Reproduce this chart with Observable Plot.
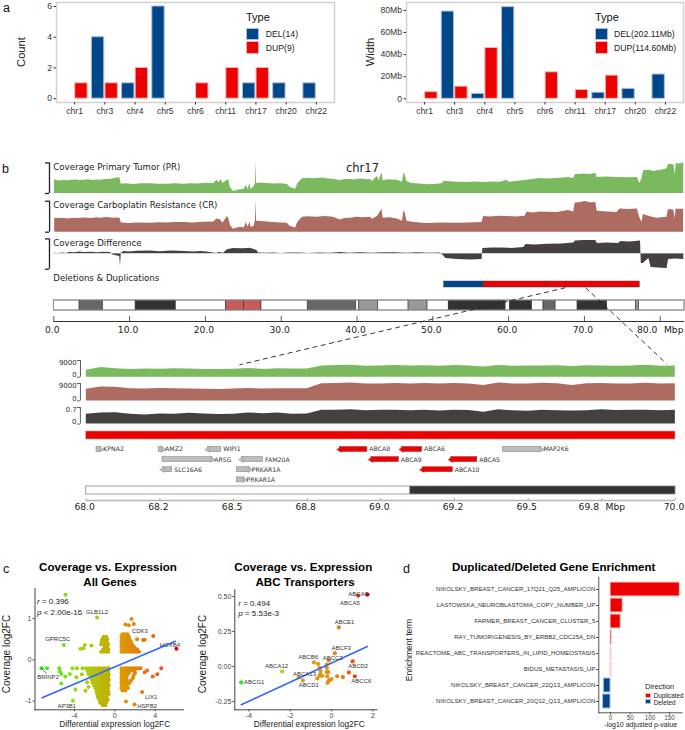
<!DOCTYPE html>
<html><head><meta charset="utf-8">
<script src="https://cdn.jsdelivr.net/npm/d3@7"></script>
<script src="https://cdn.jsdelivr.net/npm/@observablehq/plot@0.6"></script>
<style>
html,body{margin:0;padding:0;background:#fff;overflow:hidden}
#page{position:relative;width:685px;height:730px;overflow:hidden;background:#fff}
#page svg{position:absolute;max-width:none}
.t{position:absolute;white-space:nowrap;line-height:1}
</style></head><body><div id="page"></div>
<script>
// ---------- panel a ----------
const chrs=["chr1","chr3","chr4","chr5","chr6","chr11","chr17","chr20","chr22"];
const delCount=[0,4,1,6,0,0,1,1,1];
const dupCount=[1,1,2,0,1,2,2,0,0];
const delWidth=[0,79,4.5,83,0,0,5.5,9,22];
const dupWidth=[6,11,46,0,24,8,21,0,0];
// ---------- panel b, whole chromosome: [Mb, coverage] ----------
const prTrack=[[0.1,14],[0.5,12.8],[1,12.6],[1.3,13.2],[1.8,12.7],[2.3,13.2],[3,13.6],[3.4,12.9],[4,13.3],[4.6,13.8],[5,12.9],[5.6,13.4],[6.2,13.3],[6.8,13.9],[7.3,14.1],[7.7,14.6],[8.1,15],[8.7,16],[8.9,9.3],[9.5,9.7],[10.5,9.1],[11.5,9.8],[12.8,9.7],[13.8,9.3],[15,9.2],[16,9.7],[17.2,9.3],[18,9.8],[19,9.6],[20,10.2],[21.1,10],[21.5,13.3],[21.8,10.7],[22.1,14],[22.3,10],[22.9,13.3],[23.1,13.3],[23.3,6],[23.7,2],[24.2,3.1],[24.6,3.7],[25.1,4],[25.4,8.3],[25.6,4],[25.9,10],[26,4],[26.4,6.7],[26.6,10],[26.65,31],[26.75,10],[27.4,10.4],[28.1,10],[29,9.5],[30,9.8],[30.8,9],[31.2,6],[31.9,4.3],[32.2,10],[32.8,14.7],[33.5,15.2],[34.2,14.7],[34.7,15],[35.5,15.4],[36.2,14.6],[36.9,14.3],[37.8,12.7],[38.4,13.9],[39.1,14],[39.6,13.5],[40,14.3],[40.8,14.6],[41.3,13.7],[41.8,14],[42,11.7],[42.7,17.3],[42.9,12.7],[43.3,20.7],[43.45,12.7],[44.2,13.8],[45.3,13.3],[46,11.3],[46.2,20.7],[46.4,17.3],[46.6,11.7],[47.3,10],[48.3,9.4],[49.3,8.7],[50.2,9],[51.2,9.7],[51.5,12.3],[52.3,11.8],[53.2,11.3],[54.5,11],[55.6,11.5],[56.7,11],[57.8,11.5],[58.9,11.3],[59.8,13.3],[60,11.3],[61,11.9],[62.4,13.3],[63.2,14],[64.2,15],[65.2,14.4],[66.4,15],[67.2,15.4],[67.9,16],[68.6,15],[68.8,19],[69.4,19],[70,19.4],[70.7,18.9],[71.5,20],[71.7,16],[73,16.4],[74.3,16],[75.6,15.7],[77,16],[77.3,10],[77.6,15],[77.8,22.7],[78.5,23.2],[79.2,22.1],[79.6,22.7],[80.3,23.5],[80.9,24.7],[81.1,29.3],[81.8,28.7],[82,18.3],[82.1,30],[82.6,29.4],[83.1,30.7]];
const crTrack=[[0.1,14],[0.6,13.7],[1.2,13.9],[1.8,13.3],[2.6,14],[3.3,13.6],[4,14.2],[5,13.7],[5.7,14.4],[6.2,14],[7,14.6],[7.9,14],[8.7,14.3],[8.9,9.3],[10,8.7],[11,9.3],[12.8,9],[13.9,9.4],[15,9.1],[16,9.6],[17.2,9.7],[18.4,9.3],[19.6,10],[21.1,10.3],[21.5,13.3],[22,12.3],[22.3,9],[22.9,15.7],[23.1,13.3],[23.3,6.7],[23.7,3],[24.2,4.2],[24.6,5],[25.1,4.3],[25.4,9.7],[25.6,5],[25.9,10.3],[26,5],[26.4,5.7],[26.6,11.7],[26.65,31.7],[26.75,11],[28.1,10.3],[29.3,9.5],[30.8,9],[31.2,5.7],[31.9,4.3],[32.2,10],[32.8,15],[33.6,15.5],[34.7,15],[35.8,15.6],[36.9,15],[37.8,12.3],[38.4,13.8],[39.1,14],[40,15],[40.8,14.4],[41.8,15],[42,13],[42.7,15.7],[43.3,23],[43.45,14],[44.4,14.4],[45.3,13.3],[46,11],[46.2,21.7],[46.4,18.3],[46.6,11],[47.3,10],[48.3,9.3],[49.3,8.7],[51,9.2],[53.2,9],[54.8,9.3],[56.5,9.7],[56.7,15.7],[57.6,15.1],[58.7,16],[59.8,15.7],[61,15.3],[62.2,16],[62.4,20],[63.3,19.3],[64.2,20.3],[65.1,20],[66.4,19.7],[67.2,20.6],[67.9,21.7],[68.6,20.3],[68.8,29.3],[69.5,29.6],[70.1,30.7],[70.8,29.4],[71.5,29.7],[71.7,21],[73,20.3],[74.3,19.7],[74.7,23.3],[75.8,22.8],[77,23.3],[77.3,15],[77.6,10],[77.8,17.7],[78.7,15.4],[79.6,14],[80.2,14.5],[80.9,15],[81.1,22.7],[81.8,22.3],[82,13.3],[82.1,23],[83.1,23]];
const diffTrack=[[0.1,0.3],[0.6,0],[1.2,0.4],[1.7,0.1],[2,1],[2.8,0.8],[3.4,1.4],[4,0.9],[5,1.3],[5.8,0.7],[6.6,1.2],[7.5,1],[7.8,-1.5],[8.7,-3],[8.8,-13],[8.9,0],[9.2,2],[10,1.5],[11,2.3],[12.8,2.5],[14,1.8],[15.5,2.5],[17.2,2],[18.5,1.4],[19.4,2],[20.2,1.5],[21.1,0.5],[21.5,0],[21.8,1],[22.4,0.3],[22.9,3.7],[23.7,5],[25,4.7],[25.9,5.3],[26.8,3],[27,0.5],[28,0.2],[29,0.6],[30,0.1],[31,0.5],[32.5,0.5],[33.5,0.1],[35,0.6],[36.5,0.2],[37.8,1],[39,0.3],[40.5,0.7],[42,0.2],[43.5,0.8],[45,0.8],[46.5,0.2],[48,0.7],[49.5,0.3],[51,0.5],[51.4,-2],[51.7,-5],[53.2,-6],[55,-6.5],[56.5,-6],[56.6,5],[57.8,5.4],[58.9,5.5],[60.4,5.1],[62,6],[62.3,9],[63.5,8.6],[65.1,9.3],[67,9.6],[68.6,10.5],[68.8,12.5],[70,13.1],[71.5,13],[71.7,10],[73,10.4],[74.5,10],[74.8,12],[76,11.6],[77.4,12.5],[77.5,-10],[77.75,-10],[78.5,-5],[78.8,-14],[79.8,-14.6],[80.9,-15],[81.1,-6],[82,-5.6],[83.1,-6]];
const chrEvents=[[51.5,56.7,"DEL"],[56.7,65,"DUP"],[65,77.3,"DUP"]];
const ideogram=[[0,3.4,"#fff"],[3.4,6.5,"#666"],[6.5,10.8,"#fff"],[10.8,16.1,"#333"],[16.1,22.7,"#fff"],[22.7,25.1,"#c85a5a"],[25.1,27.4,"#c85a5a"],[27.4,33.5,"#fff"],[33.5,39.9,"#666"],[39.9,40.3,"#fff"],[40.3,42.8,"#999"],[42.8,46.8,"#fff"],[46.8,49.3,"#999"],[49.3,52.1,"#fff"],[52.1,59.6,"#333"],[59.6,60.2,"#fff"],[60.2,63.1,"#333"],[63.1,64.6,"#fff"],[64.6,66.2,"#666"],[66.2,69.1,"#fff"],[69.1,73,"#333"],[73,76.8,"#fff"],[76.8,77.2,"#999"],[77.2,83.2,"#fff"]];
const chrTicks=[0,10,20,30,40,50,60,70];
const chrLastTick=80;
// ---------- panel b, zoomed region ----------
const zoomPos=[68,68.05,68.1,68.15,68.2,68.25,68.3,68.35,68.4,68.45,68.5,68.55,68.6,68.65,68.7,68.75,68.8,68.85,68.9,68.95,69,69.05,69.1,69.15,69.2,69.25,69.3,69.35,69.4,69.45,69.5,69.55,69.6,69.65,69.7,69.75,69.8,69.85,69.9,69.95,70];
const zoomPR=[3700,5200,4500,4200,4400,4300,4500,4400,4200,4100,4300,4700,4200,4500,4400,4400,6000,6300,6500,5900,6000,6300,6100,6200,5900,6300,6100,5500,6300,5900,6000,6100,6200,5800,6200,6000,5900,6000,6400,5900,6100];
const zoomCR=[6000,7200,7000,6300,6100,6400,6300,6100,6000,5900,6200,6400,6100,6300,6300,6300,8900,9000,9200,8800,8800,9000,8800,9000,8700,9000,8800,8000,9200,8800,8800,9100,8900,8000,8900,9000,8700,8800,9100,8800,8900];
const zoomDiff=[.42,.47,.48,.42,.38,.43,.42,.46,.43,.40,.42,.47,.44,.47,.42,.43,.58,.58,.60,.56,.58,.58,.56,.58,.55,.58,.57,.50,.60,.56,.54,.58,.56,.55,.56,.60,.57,.58,.58,.56,.58];
const genes=[["KPNA2",68.035,68.051,0,1,0],["AMZ2",68.246,68.261,0,1,0],["WIPI1",68.413,68.458,0,-1,0],["ARSG",68.259,68.428,1,1,0],["FAM20A",68.528,68.6,1,-1,0],["SLC16A6",68.26,68.292,2,-1,0],["PRKAR1A",68.511,68.555,2,1,0],["PRKAR1A",68.511,68.537,3,1,0],["ABCA8",68.861,68.954,0,-1,1],["ABCA6",69.072,69.14,0,-1,1],["ABCA9",68.968,69.061,1,-1,1],["ABCA5",69.239,69.327,1,-1,1],["ABCA10",69.142,69.244,2,-1,1],["MAP2K6",69.414,69.545,0,1,0]];
const zoomBands=[[68,69.1,"#fff"],[69.1,70,"#333"]];
const zoomTicks=[68,68.25,68.5,68.75,69,69.25,69.5,70];
const zoomTickLabels=["68.0","68.2","68.5","68.8","69.0","69.2","69.5","70.0"];
const zoomShiftedTick=69.75, zoomShiftedLabel="69.8";
// ---------- panel c ----------
const geneRows=[
[-0.2,[-2.85,-2.55,-2.25,-1.95,-1.65,-1.35,-1.05,-0.75,-0.6]],[-0.27,[-2.7,-2.4,-2.1,-1.8,-1.5,-1.2,-0.9,-0.65]],[-0.34,[-2.6,-2.3,-2,-1.7,-1.4,-1.1,-0.8,-0.6]],[-0.41,[-2.4,-2.15,-1.85,-1.55,-1.25,-0.95,-0.65]],[-0.48,[-2.3,-2,-1.7,-1.4,-1.1,-0.8,-0.6]],[-0.55,[-2.2,-1.9,-1.6,-1.3,-1,-0.7]],[-0.62,[-2.05,-1.75,-1.45,-1.15,-0.85,-0.6]],[-0.69,[-1.9,-1.6,-1.3,-1,-0.7]],[-0.76,[-1.8,-1.5,-1.2,-0.9,-0.65]],[-0.83,[-1.75,-1.45,-1.15,-0.85,-0.6]],[-0.9,[-1.7,-1.4,-1.1,-0.8]],[-0.97,[-1.55,-1.25,-0.95,-0.7]],[-1.04,[-1.45,-1.15,-0.85]],[-1.1,[-1.2,-0.95]],
[0.2,[0.65,0.9,1.15,1.4,1.65,1.9,2.15,2.4]],[0.26,[0.7,0.95,1.2,1.45,1.7,1.95,2.2]],[0.32,[0.65,0.9,1.15,1.4,1.65,1.9]],[0.38,[0.7,0.95,1.2,1.45,1.7]],[0.44,[0.65,0.9,1.15,1.4,1.6]],[0.5,[0.7,0.95,1.2,1.45]],[0.56,[0.65,0.9,1.15,1.4]],[0.62,[0.75,1,1.25]],
[-0.2,[0.65,0.9,1.15,1.4,1.65,1.9,2.15,2.35]],[-0.26,[0.7,0.95,1.2,1.45,1.7,1.95]],[-0.32,[0.65,0.9,1.15,1.4,2]],[-0.38,[0.7,0.95,1.2,1.85]],[-0.44,[0.65,0.9,1.15,1.8]],[-0.5,[0.7,0.95,1.2,1.6]],[-0.56,[0.65,0.9,1.15,1.45]],[-0.62,[0.7,0.95,1.2]],[-0.68,[0.65,0.9,1.3]],[-0.74,[0.75,1.05]],
[0.2,[-1.35,-1.1,-0.85,-0.65]],[0.26,[-1.15,-0.9,-0.65]],[0.32,[-1,-0.75]],[0.38,[-1.35,-1.1,-0.85,-0.65]],[0.44,[-1.3,-1.05,-0.8]],[0.5,[-1.25,-1,-0.75]],[0.56,[-1.1,-0.85]]];
const genePoints=[[-4.88,1.58],[-1.75,1.03],[1.65,0.99],[1.05,0.86],[1.39,0.84],[1.88,0.87],[-5.05,0.36],[-3.4,0.27],[-2.97,0.36],[-2.31,0.35],[-3.1,0.28],[3.8,0.58],[2.8,0.48],[2.2,0.5],[2.95,0.49],[6.1,0.27],[-7.26,-0.2],[-6.7,-0.2],[-5.5,-0.2],[-5.44,-0.28],[-5.3,-0.34],[-5.3,-0.57],[-4.9,-0.4],[-4.45,-0.34],[-4.2,-0.2],[-3.75,-0.2],[-3.2,-0.2],[-3.8,-0.42],[-3.27,-0.35],[-3.9,-0.72],[-4.15,-0.99],[-2.75,-0.54],[-2.6,-0.66],[-2.9,-0.75],[4.6,-0.2],[4.2,-0.35],[3.75,-0.4],[3.2,-0.26],[2.95,-0.3],[2.55,-0.2],[2.7,-0.78],[1.1,-1.01],[1.95,-1.08]];
const geneFit=[[-7.2,-0.92],[6,0.45]];
const geneLabels=[["GLB1L2",-1.75,1.16],["CDK3",2.48,0.71],["GPRC5C",-5.66,0.5],["HOXB4",5.45,0.37],["BRINP2",-6.6,-0.42],["AP3B1",-4.75,-1.11],["LIX1",3.6,-0.91],["HSPB2",3.2,-1.11]];
const brinpLeader=[[-7.26,-0.2],[-6.75,-0.34]];
const abcPoints=[[1.74,0.514],[1.29,0.507],[0.35,0.279],[0.16,0.095],[-0.13,0.043],[-0.85,0.029],[-0.65,0.019],[-0.23,0.014],[-0.23,-0.01],[-0.58,-0.01],[-0.53,-0.033],[-0.55,-0.057],[1.02,0.036],[-2.39,-0.036],[-4.37,-0.114],[-1.58,-0.079],[-1.39,-0.1],[-0.69,-0.086],[-0.58,-0.067],[-0.45,-0.067],[-0.23,-0.04],[-0.16,-0.04],[-0.21,-0.07],[-0.08,-0.095],[0,-0.09],[-0.19,-0.117],[-0.13,-0.102],[0.27,-0.07],[0.55,-0.076],[0.84,-0.043],[1.13,-0.071]];
const abcFit=[[-4.37,-0.274],[1.73,0.143]];
const abcLabels=[["ABCA8",1.29,0.514],["ABCA5",0.89,0.455],["ABCE1",0.63,0.314],["ABCF3",0.47,0.133],["ABCB6",-1.13,0.067],["ABCC3",0.06,0.06],["ABCD2",1.29,0],["ABCA12",-2.66,0],["ABCA13",-1.31,-0.052],["ABCC6",1.44,-0.107],["ABCD1",-1.1,-0.136],["ABCG1",-3.74,-0.114]];
// ---------- panel d ----------
const terms=["NIKOLSKY_BREAST_CANCER_17Q21_Q25_AMPLICON","LASTOWSKA_NEUROBLASTOMA_COPY_NUMBER_UP","FARMER_BREAST_CANCER_CLUSTER_5","RAY_TUMORIGENESIS_BY_ERBB2_CDC25A_DN","REACTOME_ABC_TRANSPORTERS_IN_LIPID_HOMEOSTASIS","BIDUS_METASTASIS_UP","NIKOLSKY_BREAST_CANCER_22Q13_AMPLICON","NIKOLSKY_BREAST_CANCER_20Q12_Q13_AMPLICON"];
const termValues=[176,31,26,3.5,2.5,2.5,-17,-19];

const BLUE="#00468B",RED="#ED0000",SANS="'Liberation Sans',Arial,sans-serif",DJ="'DejaVu Sans',sans-serif";
const page=document.getElementById("page");
function put(p,x,y){p.style.left=x+"px";p.style.top=y+"px";page.append(p);return p;}
function txt(s,x,y,o={}){const d=document.createElement("div");d.className="t";d.innerHTML=s;
  const a=o.anchor==="end"?"-100%":o.anchor==="middle"?"-50%":"0";
  d.style.cssText+=`left:${x}px;top:${y}px;font:${o.weight||"normal"} ${o.size||8}px ${o.font||SANS};color:${o.color||"#111"};transform:translate(${a},-50%)${o.rot?` rotate(${o.rot}deg)`:""};`;
  page.append(d);}
function swatch(x,y,w,h,c,b){const d=document.createElement("div");d.style.cssText=`position:absolute;left:${x}px;top:${y}px;width:${w}px;height:${h}px;background:${c};border:1px solid ${b};box-sizing:border-box`;page.append(d);}

// Panel a bars
function typeBars(delV,dupV,yOpt,ticks,fmt,w,left,right){
  const rows=[];
  chrs.forEach((c,i)=>{if(delV[i]>0)rows.push({i,t:"DEL",v:delV[i]});if(dupV[i]>0)rows.push({i,t:"DUP",v:dupV[i]});});
  return Plot.plot({width:w,height:125,marginLeft:left,marginRight:right,marginTop:2,marginBottom:23,
    style:{fontFamily:SANS,background:"transparent",overflow:"visible"},
    x:{domain:[-0.6,8.6],axis:null},y:{...yOpt,axis:null},
    marks:[
      Plot.frame({stroke:"#d2d2d2",strokeWidth:1.5}),
      Plot.rectY(rows,{x1:d=>d.i+(d.t==="DEL"?-0.43:0.02),x2:d=>d.i+(d.t==="DEL"?-0.02:0.43),y1:0,y2:"v",fill:d=>d.t==="DEL"?BLUE:RED,stroke:d=>d.t==="DEL"?"#aebfd8":"#f6b4b4",strokeWidth:1}),
      Plot.axisX({ticks:d3.range(9),tickFormat:i=>chrs[i],tickSize:2.5,tickPadding:3,fontSize:8.6,label:null,color:"#333"}),
      Plot.axisY({ticks,tickFormat:fmt,tickSize:2.5,tickPadding:2,fontSize:8.6,label:null,color:"#333"})
    ]});
}
put(typeBars(delCount,dupCount,{domain:[-0.25,6.26]},[0,2,4,6],d=>d,340,56,6),0,0);
put(typeBars(delWidth,dupWidth,{domain:[-3.35,87.2]},[0,20,40,60,80],d=>d?d+"Mb":"0",685-340,66,2),340,0);
txt("a",3,8,{size:12.5});
txt("Count",21,52,{size:11.2,anchor:"middle",rot:-90,color:"#222"});
txt("Width",370,52,{size:11.2,anchor:"middle",rot:-90,color:"#222"});
txt("Type",246,16.7,{size:11});txt("Type",595,16.7,{size:11});
swatch(246,27.7,13,12.6,BLUE,"#aebfd8");swatch(246,41,13,12.6,RED,"#f6b4b4");
swatch(595,27.7,13,12.6,BLUE,"#aebfd8");swatch(595,41,13,12.6,RED,"#f6b4b4");
txt("DEL(14)",265.7,34,{size:8.7,color:"#222"});txt("DUP(9)",265.7,47.7,{size:8.7,color:"#222"});
txt("DEL(202.11Mb)",614,34,{size:8.7,color:"#222"});txt("DUP(114.60Mb)",614,47.7,{size:8.7,color:"#222"});

// Panel b whole-chromosome tracks
const xChr={domain:[0,83.2],range:[53.3,684]};
function track(series,fill,yd,top,h,bracket,base){
  return put(Plot.plot({width:685,height:h,margin:0,x:{...xChr,axis:null},y:{domain:yd,range:[h,0],axis:null},
    style:{background:"transparent",overflow:"visible"},
    marks:[
      Plot.areaY(series,{x:d=>d[0],y1:0,y2:d=>d[1],fill}),
      base?Plot.ruleY([0],{x1:0,x2:83.2,stroke:"#bbb",strokeWidth:.6}):null,
      Plot.ruleX([-0.57],{y1:bracket[0],y2:bracket[1],stroke:"#222",strokeWidth:1.3}),
      Plot.ruleY(bracket,{x1:-1.1,x2:-0.57,stroke:"#222",strokeWidth:1.3})
    ]}),0,top);
}
track(prTrack,"#7ab95e",[0,31],162.3,31,[0,30.6]);
track(crTrack,"#ae6b62",[0,31.7],200,31.7,[0,31]);
track(diffTrack,"#444040",[-16,16],237.3,32,[-15.7,14.6],true);
txt("Coverage Primary Tumor (PR)",53.3,167,{size:8.6,font:DJ,color:"#222"});
txt("Coverage Carboplatin Resistance (CR)",53.3,204.5,{size:8.6,font:DJ,color:"#222"});
txt("Coverage Difference",53.3,242.5,{size:8.6,font:DJ,color:"#222"});
txt("Deletions &amp; Duplications",53.3,278,{size:8.6,font:DJ,color:"#222"});
txt("chr17",346,167.5,{size:11.5,font:DJ,color:"#222"});
txt("b",2,168.5,{size:12.5});

const chrEventPlot=put(Plot.plot({width:685,height:6,margin:0,x:{...xChr,axis:null},y:{domain:[0,1],range:[6,0],axis:null},style:{overflow:"visible",background:"transparent"},
  marks:[Plot.rect(chrEvents,{x1:d=>d[0],x2:d=>d[1],y1:0,y2:1,fill:d=>d[2]==="DEL"?BLUE:RED,stroke:"#444",strokeWidth:.5})]}),0,281.3);
put(Plot.plot({width:685,height:10,margin:0,x:{...xChr,axis:null},y:{domain:[0,1],range:[10,0],axis:null},style:{overflow:"visible",background:"transparent"},
  marks:[Plot.rect(ideogram,{x1:d=>d[0],x2:d=>d[1],y1:0,y2:1,fill:d=>d[2],stroke:"#333",strokeWidth:.6}),
    Plot.rect([[0,83.2]],{x1:d=>d[0],x2:d=>d[1],y1:0,y2:1,fill:"none",stroke:"#999",strokeWidth:.9})]}),0,299.7);
put(Plot.plot({width:685,height:18,margin:0,x:{...xChr,axis:null},y:{domain:[0,1],range:[5,0],axis:null},style:{overflow:"visible",background:"transparent"},
  marks:[Plot.ruleY([0],{x1:0,x2:83.2,stroke:"#333",strokeWidth:1}),Plot.ruleX([...chrTicks,chrLastTick],{y1:0,y2:1,stroke:"#333",strokeWidth:.8}),
    Plot.text(chrTicks,{x:d=>d,y:0,text:d=>d.toFixed(1),dy:8.5,dx:-1.5,fontFamily:DJ,fontSize:9.2,fill:"#222"}),
    Plot.text([chrLastTick],{x:d=>d,y:0,text:d=>d.toFixed(1),dy:8.5,dx:-13,fontFamily:DJ,fontSize:9.2,fill:"#222"}),
    Plot.text(["Mbp"],{x:chrLastTick,y:0,dy:8.5,dx:3.7,textAnchor:"start",fontFamily:DJ,fontSize:9.2,fill:"#222"})]}),0,315.7);

// Panel b zoomed tracks
const xZoom={domain:[68,70],range:[85.7,675]};
function zoomTrack(vals,fill,maxTick,yTop,top,h,lab){
  put(Plot.plot({width:685,height:h,margin:0,x:{...xZoom,axis:null},y:{domain:[0,yTop],range:[h,0],axis:null},style:{overflow:"visible",background:"transparent"},
    marks:[Plot.areaY(zoomPos,{x:d=>d,y1:0,y2:(d,i)=>vals[i],fill}),
      Plot.ruleX([67.98],{y1:0,y2:maxTick,stroke:"#333",strokeWidth:.8}),
      Plot.ruleY([0,maxTick],{x1:67.97,x2:67.98,stroke:"#333",strokeWidth:.8}),
      Plot.text([maxTick],{x:67.967,y:d=>d,text:()=>lab,dy:2.6,textAnchor:"end",fontFamily:DJ,fontSize:7,fill:"#333"}),
      Plot.text([0],{x:67.967,y:d=>d,text:()=>"0",dy:-2.6,textAnchor:"end",fontFamily:DJ,fontSize:7,fill:"#333"})]}),0,top);
}
zoomTrack(zoomPR,"#7ab95e",9000,9000,360,16.7,"9000");
zoomTrack(zoomCR,"#ae6b62",9000,9000,383.3,17.4,"9000");
zoomTrack(zoomDiff,"#444040",0.7,0.7,406.7,16.6,"0.7");
put(Plot.plot({width:685,height:8,margin:0,x:{...xZoom,axis:null},y:{domain:[0,1],range:[8,0],axis:null},style:{overflow:"visible",background:"transparent"},
  marks:[Plot.rect([[68,70]],{x1:d=>d[0],x2:d=>d[1],y1:0,y2:1,fill:RED,stroke:"#c9a0a0",strokeWidth:.7})]}),0,430.7);
put(Plot.plot({width:685,height:44,margin:0,x:{...xZoom,axis:null},y:{domain:[0,3],range:[6,36.3],axis:null},style:{overflow:"visible",background:"transparent"},
  marks:[
    Plot.rect(genes,{x1:d=>d[1],x2:d=>d[2],y1:d=>d[3]-0.24,y2:d=>d[3]+0.24,fill:d=>d[5]?RED:"#bdbdbd",stroke:d=>d[5]?"#b03030":"#8a8a8a",strokeWidth:.6}),
    Plot.dot(genes,{x:d=>d[4]>0?d[2]:d[1],y:d=>d[3],symbol:"triangle",rotate:d=>d[4]>0?90:-90,r:2.1,fill:d=>d[5]?RED:"#bdbdbd",stroke:d=>d[5]?"#b03030":"#8a8a8a",strokeWidth:.4}),
    Plot.text(genes,{x:d=>d[2],y:d=>d[3],text:d=>d[0],dx:2,textAnchor:"start",fontFamily:DJ,fontSize:6.2,fill:"#333"})
  ]}),0,442.7);
put(Plot.plot({width:685,height:8,margin:0,x:{...xZoom,axis:null},y:{domain:[0,1],range:[8,0],axis:null},style:{overflow:"visible",background:"transparent"},
  marks:[Plot.rect(zoomBands,{x1:d=>d[0],x2:d=>d[1],y1:0,y2:1,fill:d=>d[2],stroke:"#888",strokeWidth:.8})]}),0,486);
put(Plot.plot({width:685,height:16,margin:0,x:{...xZoom,axis:null},y:{domain:[0,1],range:[2,0],axis:null},style:{overflow:"visible",background:"transparent"},
  marks:[Plot.ruleY([0],{x1:68,x2:70,stroke:"#b5b5b5",strokeWidth:1.4}),Plot.ruleX([...zoomTicks,zoomShiftedTick],{y1:0,y2:1,stroke:"#777",strokeWidth:.6}),
    Plot.text(zoomTicks,{x:d=>d,y:0,text:(d,i)=>zoomTickLabels[i],dy:6.7,dx:-1.5,fontFamily:DJ,fontSize:9.2,fill:"#222"}),
    Plot.text([zoomShiftedTick],{x:d=>d,y:0,text:()=>zoomShiftedLabel,dy:6.7,dx:-13,fontFamily:DJ,fontSize:9.2,fill:"#222"}),
    Plot.text(["Mbp"],{x:zoomShiftedTick,y:0,dy:6.7,dx:3.7,textAnchor:"start",fontFamily:DJ,fontSize:9.2,fill:"#222"})]}),0,498.3);

// Panel c colours follow the differential expression value
const exprColor=d3.scaleLinear().domain([-7.3,-4.4,-2.4,-1,0.7,2.5,4.5,6.1]).range(["#22ee22","#88e010","#b0c810","#bcb400","#dc9a00","#e47c10","#ee5a20","#ee0000"]);
const abcColor=d3.scaleLinear().domain([-4.37,-2.4,-1.4,-0.5,0.4,1,1.74]).range(["#22ee22","#b4cc10","#c4aa08","#dc9a10","#e88010","#ee5010","#dd0010"]);
function scatter(pts,fit,labels,colorFn,o){
  return Plot.plot({width:o.w,height:180,marginLeft:o.xr[0],marginRight:o.w-o.xr[1],marginTop:o.yr[1],marginBottom:180-o.yr[0],
    x:{domain:o.xd,axis:null},y:{domain:o.yd,axis:null},color:{type:"identity"},
    style:{fontFamily:SANS,overflow:"visible",background:"transparent"},
    marks:[
      Plot.frame({anchor:"left",stroke:"#444",strokeWidth:1}),Plot.frame({anchor:"bottom",stroke:"#444",strokeWidth:1}),
      Plot.dot(pts,{x:d=>d[0],y:d=>d[1],r:o.r,fill:d=>colorFn(d[0])}),
      Plot.line(fit,{x:d=>d[0],y:d=>d[1],stroke:"#3366FF",strokeWidth:1.6}),
      o.leader?Plot.line(o.leader,{x:d=>d[0],y:d=>d[1],stroke:"#222",strokeWidth:.6}):null,
      Plot.text(labels,{x:d=>d[1],y:d=>d[2],text:d=>d[0],fontSize:6,fill:"#333"}),
      Plot.axisX({ticks:o.xt,tickSize:2,tickPadding:1.5,fontSize:7,label:null,color:"#444",tickFormat:d=>String(d)}),
      Plot.axisY({ticks:o.yt,tickSize:2,tickPadding:1.5,fontSize:7,label:null,color:"#444",tickFormat:o.yf,anchor:"left"})
    ]});
}
const genePts=[...geneRows.flatMap(([y,xs])=>xs.map(x=>[x,y])),...genePoints];
put(scatter(genePts,geneFit,geneLabels,exprColor,{w:195,xd:[-7.9,6.8],xr:[34.5,183],yd:[-1.21,1.73],yr:[159.3,38],xt:[-4,0,4],yt:[-1,0,1],yf:d=>String(d),r:2,leader:brinpLeader}),0,550);
put(scatter(abcPoints,abcFit,abcLabels,abcColor,{w:190,xd:[-4.68,2.2],xr:[39.3,181.5],yd:[-0.31,0.548],yr:[159.3,39.3],xt:[-4,-2,0,2],yt:[-0.25,0,0.25,0.5],yf:d=>d.toFixed(2),r:2.1}),195,550);
txt("c",3,568.5,{size:12.5});
txt("Coverage vs. Expression",108,565.7,{size:11.6,weight:"bold",anchor:"middle",color:"#000"});
txt("All Genes",110,580.7,{size:11.6,weight:"bold",anchor:"middle",color:"#000"});
txt("Coverage vs. Expression",303.3,565.7,{size:11.6,weight:"bold",anchor:"middle",color:"#000"});
txt("ABC Transporters",305,580.7,{size:11.6,weight:"bold",anchor:"middle",color:"#000"});
txt("<i>r</i> = 0.396",37,601,{size:8,color:"#222"});txt("<i>p</i> &lt; 2.00e-16",37,611.7,{size:8,color:"#222"});
txt("<i>r</i> = 0.494",238.3,603.3,{size:8,color:"#222"});txt("<i>p</i> = 5.53e-3",238.3,613.3,{size:8,color:"#222"});
txt("Differential expression log2FC",114.7,723.7,{size:8.3,anchor:"middle",color:"#222"});
txt("Differential expression log2FC",309.3,723.7,{size:8.3,anchor:"middle",color:"#222"});
txt("Coverage log2FC",6,654,{size:10,anchor:"middle",rot:-90,color:"#222"});
txt("Coverage log2FC",202,654,{size:10,anchor:"middle",rot:-90,color:"#222"});

// Panel d
const enrich=terms.map((t,i)=>({t,v:termValues[i]}));
put(Plot.plot({width:290,height:180,marginLeft:203.3,marginRight:3.3,marginTop:26.7,marginBottom:17.7,
  x:{domain:[-29.8,182],axis:null},
  y:{domain:terms,range:[28.4,161],padding:0.13,axis:null},
  style:{fontFamily:SANS,overflow:"visible",background:"transparent"},
  marks:[
    Plot.frame({anchor:"left",stroke:"#555",strokeWidth:1}),Plot.frame({anchor:"bottom",stroke:"#555",strokeWidth:1}),
    Plot.barX(enrich,{x1:0,x2:"v",y:"t",fill:d=>d.v<0?BLUE:RED,stroke:d=>d.v<0?"#aebfd8":"#f9cfcf",strokeWidth:1}),
    Plot.axisY({anchor:"left",tickSize:2,tickPadding:1.5,fontSize:6.1,label:null,color:"#333"}),
    Plot.axisX({ticks:[0,50,100,150],tickSize:2,tickPadding:1,fontSize:6.3,label:null,color:"#444",anchor:"bottom"})
  ]}),395,550);
txt("d",403,568.5,{size:12.5});
txt("Duplicated/Deleted Gene Enrichment",553.7,565.7,{size:11.6,weight:"bold",anchor:"middle",color:"#000"});
txt("Enrichment term",409,650,{size:8.5,anchor:"middle",rot:-90,color:"#222"});
txt("-log10 adjusted p-value",640.7,724,{size:7,anchor:"middle",color:"#222"});
txt("Direction",645,686,{size:7.4,color:"#222"});
swatch(645,692.7,5.5,5.2,RED,"#f6b4b4");swatch(645,699,5.5,5.2,BLUE,"#aebfd8");
txt("Duplicated",653.7,695.3,{size:6.3,color:"#222"});txt("Deleted",653.7,701.6,{size:6.3,color:"#222"});

// Dashed connectors between the chromosome view and the zoomed view
const cx=chrEventPlot.scale("x").apply;
const zoomX=d3.scaleLinear().domain(xZoom.domain).range(xZoom.range);
const connectors=[{x1:cx(67.5),y1:287.2,x2:zoomX(68.52),y2:364.3},{x1:cx(70.15),y1:287.2,x2:zoomX(69.97),y2:363.3}];
put(Plot.plot({width:685,height:730,margin:0,x:{domain:[0,685],axis:null},y:{domain:[0,730],range:[0,730],axis:null},style:{overflow:"visible",background:"transparent"},
  marks:[Plot.link(connectors,{x1:"x1",y1:"y1",x2:"x2",y2:"y2",stroke:"#222",strokeWidth:.9,strokeDasharray:"5 3.5"})]}),0,0);
</script></body></html>
